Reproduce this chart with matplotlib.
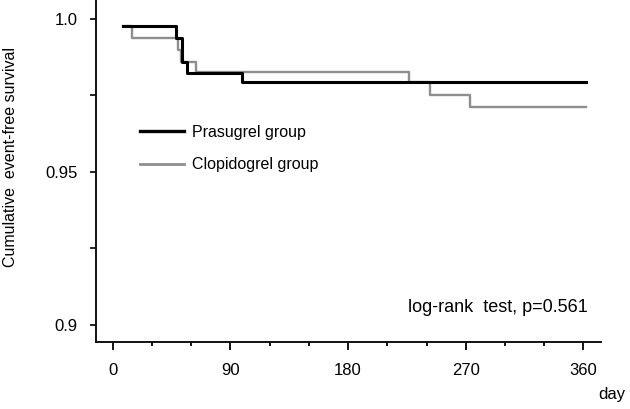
import matplotlib
matplotlib.use('Agg')
import matplotlib.pyplot as plt
from matplotlib.ticker import MultipleLocator

plt.rcParams['font.family'] = ['Liberation Sans', 'DejaVu Sans']

# Kaplan-Meier step data (day, survival)
prasugrel_days = [8, 48.4, 52.7, 57, 98.5, 362]
prasugrel_surv = [0.9978, 0.9939, 0.9861, 0.9825, 0.9793, 0.9793]

clopidogrel_days = [8, 14.5, 50, 52.5, 64, 226.6, 243, 273.5, 362.3]
clopidogrel_surv = [0.9978, 0.9939, 0.9899, 0.9861, 0.9827, 0.9793, 0.9752, 0.9713, 0.9713]

x_ticks = [0, 90, 180, 270, 360]
y_ticks = [0.9, 0.95, 1.0]
y_tick_labels = ['0.9', '0.95', '1.0']

W, H = 630, 409
fig = plt.figure(figsize=(6.3, 4.09), dpi=100)
ax = fig.add_axes([96 / W, (H - 342) / H, (601 - 96) / W, 342 / H])

ax.step(prasugrel_days, prasugrel_surv, where='post', color='black',
        linewidth=2.2, label='Prasugrel group', zorder=3)
ax.step(clopidogrel_days, clopidogrel_surv, where='post', color='#8e8e8e',
        linewidth=1.7, label='Clopidogrel group', zorder=2)

ax.set_xlim(-12.8, 373.4)
ax.set_ylim(0.89444, 1.00621)

ax.spines['top'].set_visible(False)
ax.spines['right'].set_visible(False)
for s in ('left', 'bottom'):
    ax.spines[s].set_linewidth(1.4)
    ax.spines[s].set_color('#111111')

ax.set_xticks(x_ticks)
ax.xaxis.set_minor_locator(MultipleLocator(30))
ax.set_yticks(y_ticks)
ax.set_yticklabels(y_tick_labels)
ax.yaxis.set_minor_locator(MultipleLocator(0.025))
ax.tick_params(axis='x', which='major', length=6, width=1.3, pad=9, labelsize=12)
ax.tick_params(axis='x', which='minor', length=3, width=1.3)
ax.tick_params(axis='y', which='major', length=4.5, width=1.2, pad=9, labelsize=12)
ax.tick_params(axis='y', which='minor', length=4, width=1.2)

leg = ax.legend(loc='upper left', bbox_to_anchor=(140 / W, 1 - 124.5 / H),
                bbox_transform=fig.transFigure, frameon=False, fontsize=11.5,
                handlelength=2.75, handletextpad=0.5, labelspacing=1.12,
                borderpad=0, borderaxespad=0)
leg.get_lines()[0].set_linewidth(2.4)
leg.get_lines()[1].set_linewidth(2.0)

fig.text(498 / W, 1 - 307 / H, 'log-rank  test, p=0.561', ha='center',
         va='center', fontsize=13)
fig.text(612 / W, 1 - 395 / H, 'day', ha='center', va='center', fontsize=12)
fig.text(11 / W, 1 - 157 / H, 'Cumulative  event-free survival', rotation=90,
         ha='center', va='center', fontsize=11.5)

fig.savefig('out.png', dpi=100)
